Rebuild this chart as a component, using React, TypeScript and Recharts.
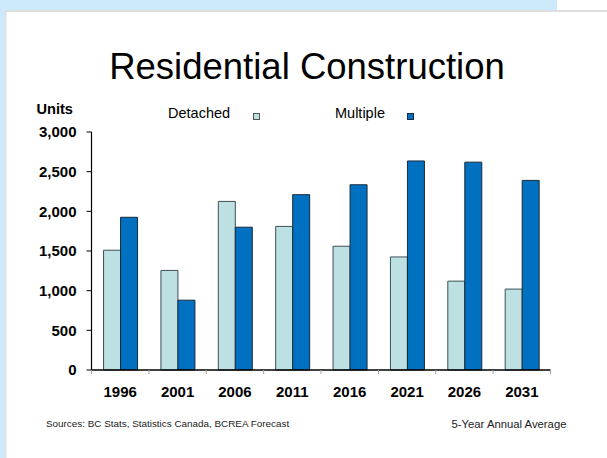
import React from 'react';
import { BarChart, Bar, XAxis, YAxis, Legend } from 'recharts';

const categories = ['1996', '2001', '2006', '2011', '2016', '2021', '2026', '2031'];
const detached = [1510, 1255, 2125, 1810, 1560, 1425, 1120, 1020];
const multiple = [1925, 880, 1800, 2210, 2335, 2635, 2620, 2390];
const yTicks = [0, 500, 1000, 1500, 2000, 2500, 3000];
const seriesNames = ['Detached', 'Multiple'];

const data = categories.map((c, i) => ({ year: c, Detached: detached[i], Multiple: multiple[i] }));

const W = 607;
const H = 458;
const PLOT_LEFT = 91.5;
const PLOT_RIGHT = 550.5;
const PLOT_TOP = 132;
const PLOT_BOTTOM = 370;
const BAND = (PLOT_RIGHT - PLOT_LEFT) / categories.length;
const FONT = 'Arial, "Liberation Sans", Helvetica, sans-serif';

const DET_FILL = '#bde0e3';
const MUL_FILL = '#0070c0';

const XTick = (props: any) => {
  const { x, y, payload, index } = props;
  const axisY = y - 16;
  return (
    <g>
      <line x1={x - BAND / 2} x2={x - BAND / 2} y1={axisY} y2={axisY + 4} stroke="#a0a0a0" strokeWidth={1} />
      {index === categories.length - 1 && (
        <line x1={x + BAND / 2} x2={x + BAND / 2} y1={axisY} y2={axisY + 4} stroke="#a0a0a0" strokeWidth={1} />
      )}
      <text x={x} y={axisY + 27} textAnchor="middle" fontFamily={FONT} fontSize={15} fontWeight="bold" fill="#000">
        {payload.value}
      </text>
    </g>
  );
};

const renderLegend = () => (
  <svg width={W} height={130} style={{ position: 'absolute', left: 0, top: 0 }}>
    <text x={168} y={118} fontFamily={FONT} fontSize={14.5} fill="#000">{seriesNames[0]}</text>
    <rect x={253.5} y={113.5} width={6} height={6} fill={DET_FILL} stroke="#555" strokeWidth={1} />
    <text x={335} y={118} fontFamily={FONT} fontSize={14.5} fill="#000">{seriesNames[1]}</text>
    <rect x={407.5} y={113.5} width={6} height={6} fill={MUL_FILL} stroke="#1a2a3a" strokeWidth={1} />
  </svg>
);

export default function App() {
  return (
    <div style={{ position: 'absolute', left: 0, top: 0, width: W, height: H, background: '#fff', overflow: 'hidden' }}>
      <svg width={W} height={H} style={{ position: 'absolute', left: 0, top: 0 }}>
        <rect x={0} y={0} width={557} height={10} fill="#cdeafc" />
        <rect x={0} y={0} width={5} height={H} fill="#cdeafc" />
        <rect x={5} y={10} width={W - 5} height={2} fill="#dedede" />
        <rect x={5} y={10} width={1.5} height={H - 10} fill="#dedede" />
        <text x={307} y={79} textAnchor="middle" fontFamily={FONT} fontSize={36.5} fill="#000">
          Residential Construction
        </text>
        <text x={36.5} y={114} fontFamily={FONT} fontSize={14.6} fontWeight="bold" fill="#000">Units</text>
        <text x={46} y={427} fontFamily={FONT} fontSize={9.9} fill="#222">
          Sources: BC Stats, Statistics Canada, BCREA  Forecast
        </text>
        <text x={451.5} y={428} fontFamily={FONT} fontSize={11.3} fill="#222">5-Year Annual Average</text>
      </svg>
      <div style={{ position: 'absolute', left: 0, top: 0 }}>
        <BarChart
          width={W}
          height={H}
          data={data}
          margin={{ top: PLOT_TOP, right: W - PLOT_RIGHT, left: 0, bottom: 58 }}
          barCategoryGap="21%"
          barGap={0}
        >
          <YAxis
            width={PLOT_LEFT}
            domain={[0, 3000]}
            ticks={yTicks}
            interval={0}
            tickFormatter={(v: number) => v.toLocaleString('en-US')}
            axisLine={{ stroke: '#000', strokeWidth: 1.2 }}
            tickLine={{ stroke: '#000' }}
            tickSize={5}
            tickMargin={10}
            tick={{ fontFamily: FONT, fontSize: 15, fontWeight: 'bold', fill: '#000' }}
          />
          <XAxis
            dataKey="year"
            height={30}
            interval={0}
            axisLine={{ stroke: '#000', strokeWidth: 1.5 }}
            tickLine={false}
            tickSize={4}
            tickMargin={12}
            tick={<XTick />}
          />
          <Legend layout="vertical" align="center" verticalAlign="middle" content={renderLegend}
            wrapperStyle={{ left: 0, top: 0, width: W, height: 130 }} />
          <Bar dataKey="Detached" fill={DET_FILL} stroke="#3d4f55" strokeWidth={1} isAnimationActive={false} />
          <Bar dataKey="Multiple" fill={MUL_FILL} stroke="#1a2a3a" strokeWidth={1} isAnimationActive={false} />
        </BarChart>
      </div>
    </div>
  );
}
